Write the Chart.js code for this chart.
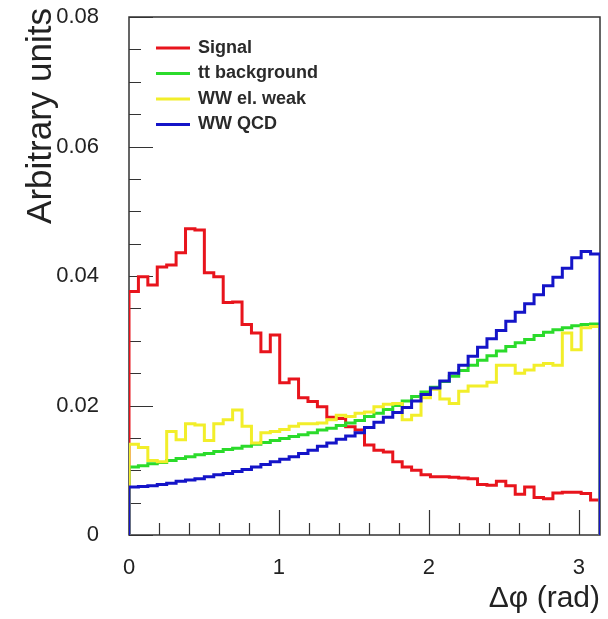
<!DOCTYPE html>
<html>
<head>
<meta charset="utf-8">
<script src="https://cdn.jsdelivr.net/npm/chart.js@4.4.0/dist/chart.umd.min.js"></script>
<style>
    html, body { margin: 0; padding: 0; background: #fff; }
    #wrap { width: 608px; height: 619px; }
</style>
</head>
<body>
<div id="wrap"><canvas id="chart"></canvas></div>
<script>
const xMax = Math.PI;
const yTickValues = [0, 0.02, 0.04, 0.06, 0.08];
const xTickValues = [0, 1, 2, 3];
const yMinorStep = 0.005;
const xMinorStep = 0.2;

const seriesLabels = ['Signal', 'tt background', 'WW el. weak', 'WW QCD'];
const seriesColors = ['#e8141c', '#2bdb2b', '#f2ee2a', '#1414c8'];

// 50 bins between 0 and pi
const signal = [
    0.0376, 0.0399, 0.0386, 0.0414, 0.0417, 0.0436, 0.0473, 0.0471, 0.0405, 0.0399,
    0.0359, 0.0360, 0.0325, 0.0312, 0.0283, 0.0309, 0.0235, 0.0241, 0.0212, 0.0206,
    0.0198, 0.0182, 0.0180, 0.0167, 0.0162, 0.0139, 0.0131, 0.0128, 0.0113, 0.0105,
    0.0100, 0.0093, 0.0090, 0.0090, 0.0089, 0.0088, 0.0087, 0.0078, 0.0077, 0.0083,
    0.0076, 0.0063, 0.0074, 0.0058, 0.0056, 0.0065, 0.0066, 0.0066, 0.0064, 0.0054
];
const ttBackground = [
    0.0105, 0.0107, 0.0110, 0.0112, 0.0115, 0.0118, 0.0121, 0.0124, 0.0126, 0.0129,
    0.0132, 0.0134, 0.0137, 0.0140, 0.0143, 0.0146, 0.0149, 0.0152, 0.0155, 0.0158,
    0.0162, 0.0165, 0.0169, 0.0173, 0.0177, 0.0183, 0.0188, 0.0194, 0.0200, 0.0207,
    0.0214, 0.0221, 0.0228, 0.0237, 0.0245, 0.0254, 0.0262, 0.0270, 0.0277, 0.0284,
    0.0291, 0.0297, 0.0302, 0.0308, 0.0313, 0.0317, 0.0320, 0.0323, 0.0325, 0.0326
];
const wwElWeak = [
    0.0140, 0.0135, 0.0115, 0.0113, 0.0160, 0.0147, 0.0172, 0.0170, 0.0146, 0.0172,
    0.0178, 0.0193, 0.0168, 0.0142, 0.0158, 0.0160, 0.0163, 0.0168, 0.0172, 0.0172,
    0.0173, 0.0178, 0.0185, 0.0183, 0.0188, 0.0190, 0.0198, 0.0202, 0.0203, 0.0178,
    0.0185, 0.0212, 0.0225, 0.0210, 0.0203, 0.0222, 0.0230, 0.0230, 0.0236, 0.0262,
    0.0262, 0.0250, 0.0255, 0.0262, 0.0265, 0.0262, 0.0312, 0.0286, 0.0320, 0.0322
];
const wwQcd = [
    0.0074, 0.0075, 0.0076, 0.0078, 0.0080, 0.0083, 0.0085, 0.0087, 0.0090, 0.0093,
    0.0095, 0.0098, 0.0101, 0.0105, 0.0109, 0.0113, 0.0117, 0.0121, 0.0126, 0.0131,
    0.0137, 0.0142, 0.0148, 0.0153, 0.0158, 0.0166, 0.0174, 0.0182, 0.0189, 0.0197,
    0.0207, 0.0217, 0.0227, 0.0238, 0.0250, 0.0262, 0.0276, 0.0290, 0.0303, 0.0316,
    0.0330, 0.0344, 0.0357, 0.0371, 0.0385, 0.0398, 0.0412, 0.0428, 0.0438, 0.0434
];
const allSeries = [signal, ttBackground, wwElWeak, wwQcd];

// histogram outline: from 0 at the left edge, one point per bin low edge, back to 0 at the right
function histPoints(values) {
    let w = xMax / values.length;
    let pts = [{x: 0, y: 0}];
    for (let i = 0; i < values.length; i++) {
        pts.push({x: i * w, y: values[i]});
    }
    pts.push({x: xMax, y: values[values.length - 1]});
    pts.push({x: xMax, y: 0});
    return pts;
}

function stepValues(min, max, step) {
    let out = [];
    for (let v = min; v <= max + 1e-9; v += step) out.push(+v.toFixed(4));
    return out;
}

const frameAndTicks = {
    id: 'frameAndTicks',
    beforeDatasetsDraw(chart) {
        const {ctx, chartArea: a, scales: {x, y}} = chart;
        ctx.save();
        ctx.strokeStyle = '#333';
        ctx.lineWidth = 1.5;
        ctx.strokeRect(a.left, a.top, a.right - a.left, a.bottom - a.top);
        ctx.lineWidth = 1.2;
        ctx.beginPath();
        stepValues(0, 0.08, yMinorStep).forEach(v => {
            let py = Math.round(y.getPixelForValue(v)) + 0.5;
            let len = yTickValues.includes(v) ? 24 : 12;
            ctx.moveTo(a.left, py);
            ctx.lineTo(a.left + len, py);
        });
        stepValues(0, 3, xMinorStep).forEach(v => {
            let px = Math.round(x.getPixelForValue(v)) + 0.5;
            let len = xTickValues.includes(v) ? 25 : 12;
            ctx.moveTo(px, a.bottom);
            ctx.lineTo(px, a.bottom - len);
        });
        ctx.stroke();
        ctx.restore();
    }
};

const labelsAndLegend = {
    id: 'labelsAndLegend',
    afterDraw(chart) {
        const {ctx} = chart;
        ctx.save();
        // y title, right-aligned to the top like ROOT does
        ctx.translate(41, 8);
        ctx.rotate(-Math.PI / 2);
        ctx.font = '35px "Liberation Sans", Arial, sans-serif';
        ctx.fillStyle = '#222';
        ctx.textAlign = 'right';
        ctx.textBaseline = 'middle';
        ctx.fillText('Arbitrary units', 0, 0);
        ctx.restore();

        ctx.save();
        ctx.font = 'bold 18px "Liberation Sans", Arial, sans-serif';
        ctx.textBaseline = 'middle';
        chart.data.datasets.forEach((ds, i) => {
            let rowY = 48 + i * 25.5;
            ctx.strokeStyle = ds.borderColor;
            ctx.lineWidth = 3;
            ctx.beginPath();
            ctx.moveTo(156, rowY);
            ctx.lineTo(190, rowY);
            ctx.stroke();
            ctx.fillStyle = '#2a2a2a';
            ctx.fillText(ds.label, 198, rowY);
        });
        ctx.restore();
    }
};

const datasets = allSeries.map((vals, i) => ({
    label: seriesLabels[i],
    data: histPoints(vals),
    borderColor: seriesColors[i],
    backgroundColor: 'transparent',
    borderWidth: 3,
    stepped: 'before',
    pointRadius: 0,
    pointHoverRadius: 0,
    tension: 0,
    order: allSeries.length - i
}));

const axisFont = {family: '"Liberation Sans", Arial, sans-serif', size: 22};
const titleFont = {family: '"Liberation Sans", Arial, sans-serif', size: 30};

let ctx = document.getElementById('chart').getContext('2d');
let chart = new Chart(ctx, {
    type: 'line',
    data: {datasets: datasets},
    options: {
        responsive: true,
        maintainAspectRatio: false,
        animation: false,
        layout: {padding: {top: 17, right: 8, left: 0, bottom: 0}},
        plugins: {
            legend: {display: false},
            tooltip: {enabled: false}
        },
        scales: {
            x: {
                type: 'linear',
                min: 0,
                max: xMax,
                afterBuildTicks: s => { s.ticks = xTickValues.map(v => ({value: v})); },
                afterFit: s => { s.height = 84; s.paddingLeft = 0; s.paddingRight = 0; },
                grid: {display: false, drawTicks: false},
                border: {display: false},
                ticks: {
                    font: axisFont,
                    color: '#222',
                    padding: 20,
                    maxRotation: 0,
                    callback: v => String(v)
                },
                title: {
                    display: true,
                    text: 'Δφ (rad)',
                    align: 'end',
                    font: titleFont,
                    color: '#222',
                    padding: {top: 0, bottom: 2}
                }
            },
            y: {
                min: 0,
                max: 0.08,
                afterBuildTicks: s => { s.ticks = yTickValues.map(v => ({value: v})); },
                afterFit: s => { s.width = 129; s.paddingTop = 0; s.paddingBottom = 0; },
                grid: {display: false, drawTicks: false},
                border: {display: false},
                ticks: {
                    font: axisFont,
                    color: '#222',
                    padding: 30,
                    callback: v => v === 0 ? '0' : v.toFixed(2)
                }
            }
        }
    },
    plugins: [frameAndTicks, labelsAndLegend]
});
</script>
</body>
</html>
